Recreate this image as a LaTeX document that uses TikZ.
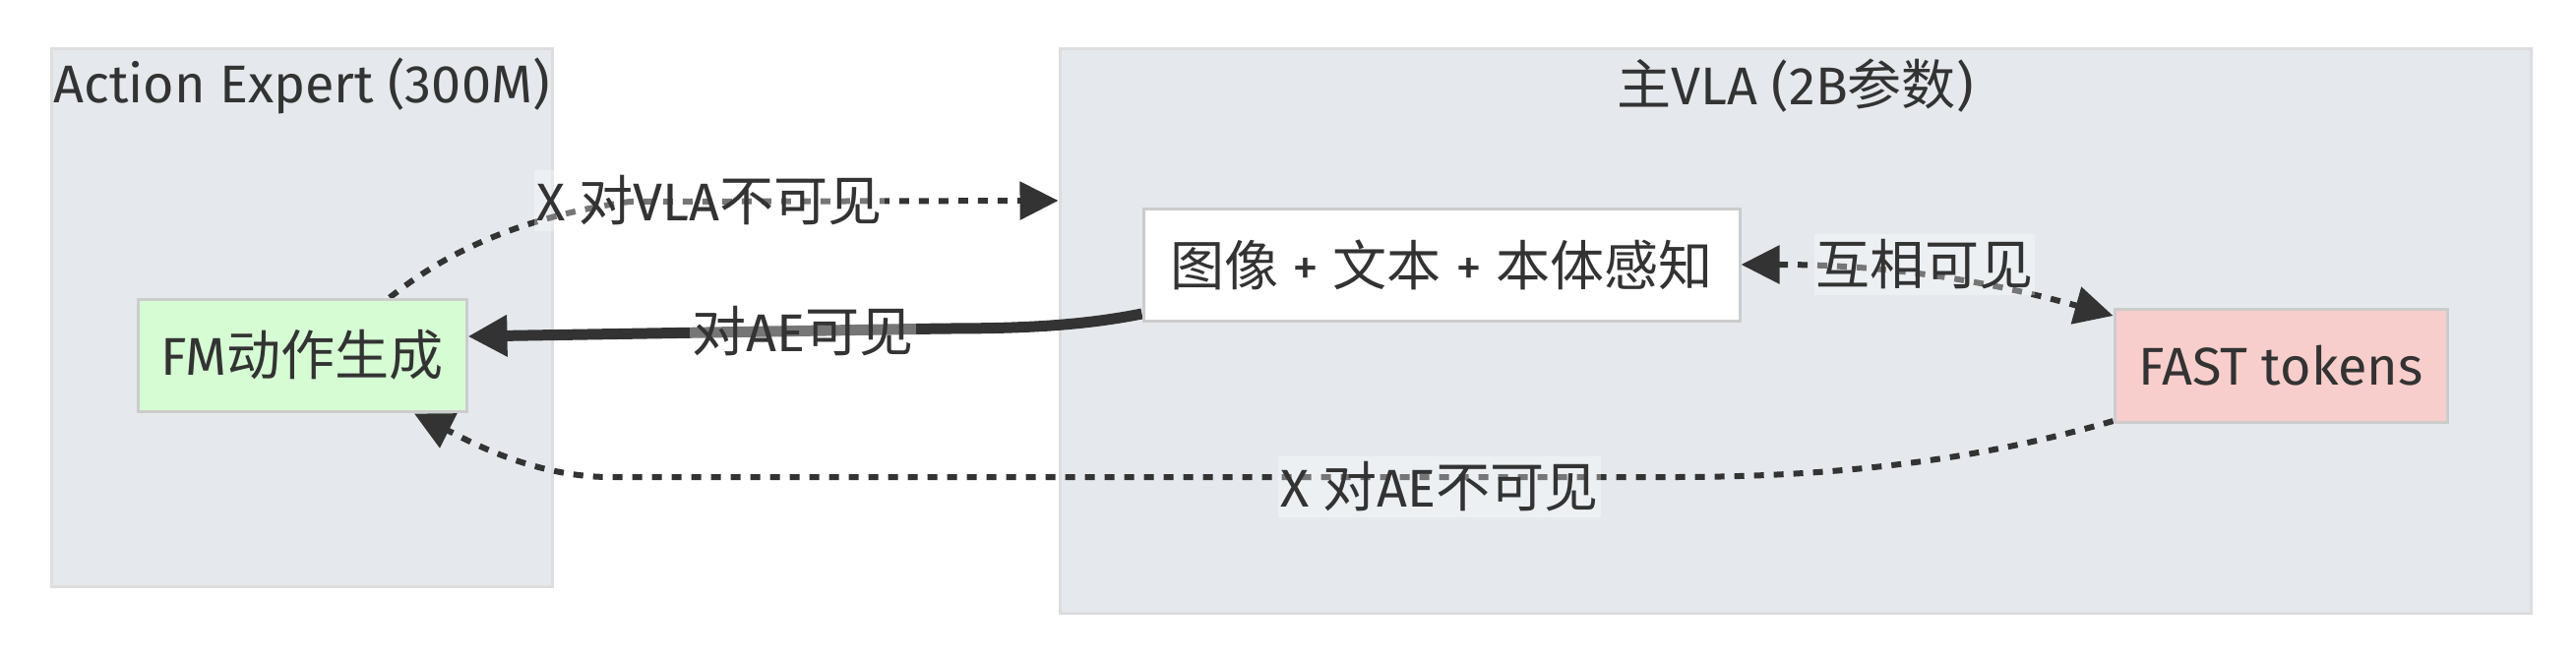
\documentclass[tikz,border=0pt]{standalone}
\usepackage{fontspec}
\setmainfont{Fira Sans}
\newfontfamily\cjk[Scale=1.02]{Noto Sans CJK SC}
\usetikzlibrary{arrows.meta}
\pgfdeclarelayer{bg}
\pgfdeclarelayer{edges}
\pgfsetlayers{bg,edges,main}
\definecolor{txt}{HTML}{333333}
\definecolor{clfill}{HTML}{E5E9EE}
\definecolor{clline}{HTML}{DDDDDD}
\definecolor{nodeline}{HTML}{CCCCCC}
\definecolor{fmfill}{HTML}{D6FCD4}
\definecolor{fastfill}{HTML}{F8CECC}
\newcommand{\bigfont}{\fontsize{54}{62}\selectfont}
\tikzset{
  cluster/.style={fill=clfill, draw=clline, line width=3pt, inner sep=0pt},
  box/.style={draw=nodeline, line width=3pt, inner sep=0pt, text=txt, font=\bigfont},
  ttl/.style={text=txt, font=\bigfont, inner sep=0pt},
  elabel/.style={fill=white, fill opacity=0.33, text opacity=1, text=txt, font=\bigfont, inner xsep=2pt, inner ysep=0pt, minimum height=62pt},
  dotconn/.style={draw=txt, line width=6pt, dash pattern=on 10pt off 10pt},
  thickconn/.style={draw=txt, line width=11pt},
  tipd/.tip={Triangle[length=39pt,width=38pt]},
  tipt/.tip={Triangle[length=40pt,width=40pt]}
}
\begin{document}
\begin{tikzpicture}[x=1pt,y=-1pt]
\useasboundingbox (0,0) rectangle (2618,670);
\begin{pgfonlayer}{bg}
\fill[white] (0,0) rectangle (2618,670);
\node[cluster, minimum width=509pt, minimum height=547pt] (ae) at (306.5,322.5) {};
\node[cluster, minimum width=1495pt, minimum height=574pt] (vla) at (1824.5,336) {};
\end{pgfonlayer}
\node[ttl] (aettl) at (306.5,87) {Action Expert (300M)};
\node[ttl] (vlattl) at (1824.5,87) {{\cjk 主}VLA (2B{\cjk 参数})};
% nodes
\node[box, fill=fmfill, minimum width=334pt, minimum height=114pt] (fm) at (307,361) {FM{\cjk 动作生成}};
\node[box, fill=white, minimum width=606pt, minimum height=114pt] (img) at (1465,269) {{\cjk 图像} + {\cjk 文本} + {\cjk 本体感知}};
\node[box, fill=fastfill, minimum width=338pt, minimum height=115pt] (fast) at (2318,372) {FAST tokens};
\coordinate (vlain) at (vla.west |- 0,204);
% edges
\begin{pgfonlayer}{edges}
\draw[dotconn, -tipd] ([xshift=89pt]fm.north) .. controls (425,280) and (495,225) .. (640,205) -- (vlain);
\draw[thickconn, -tipt] ([yshift=-50pt]img.west) .. controls (1100,331) and (1040,334) .. (960,334) -- ([yshift=19pt]fm.east);
\draw[dotconn, tipd-tipd] (img.east) .. controls (1900,269) and (2000,280) .. ([yshift=-8pt]fast.north west);
\draw[dotconn, -tipd] ([yshift=3pt]fast.south west) .. controls (2020,465) and (1880,485) .. (1700,485) -- (620,485) .. controls (540,485) and (470,445) .. ([xshift=114pt,yshift=-1pt]fm.south);
\end{pgfonlayer}
% edge labels
\node[elabel] (l1) at (721,204) {X {\cjk 对}VLA{\cjk 不可见}};
\node[elabel] (l2) at (816,337) {{\cjk 对}AE{\cjk 可见}};
\node[elabel] (l3) at (1956,269) {{\cjk 互相可见}};
\node[elabel] (l4) at (1463,495) {X {\cjk 对}AE{\cjk 不可见}};
\end{tikzpicture}
\end{document}
